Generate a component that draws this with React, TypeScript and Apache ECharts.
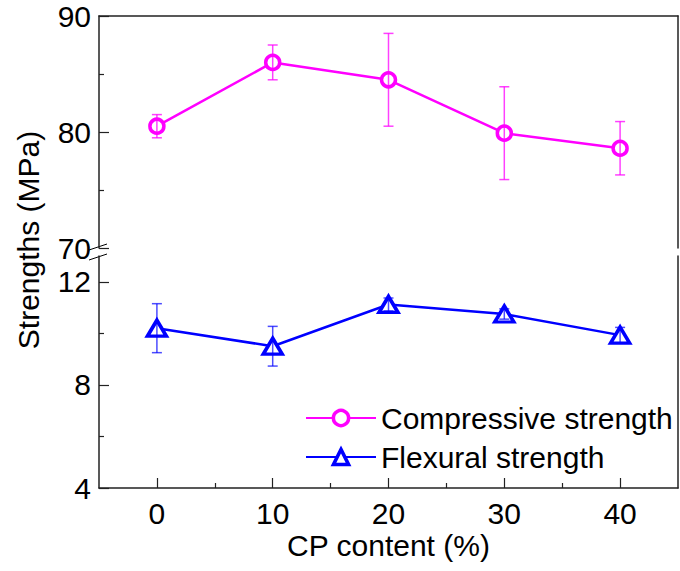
import React, { useEffect, useRef } from 'react';
import * as echarts from 'echarts';

const cpContent = [0, 10, 20, 30, 40];
const compressive = [80.5, 86.0, 84.5, 79.9, 78.6];
const compressiveErr = [1.0, 1.5, 4.0, 4.0, 2.3];
const flexural = [10.2, 9.5, 11.12, 10.75, 9.93];
const flexuralErr = [0.95, 0.77, 0.25, 0.2, 0.3];
const xMajorTicks = [0, 10, 20, 30, 40];
const xMinorTicks = [5, 15, 25, 35];
const upperMajorTicks = [70, 80, 90];
const upperMinorTicks = [75, 85];
const lowerMajorTicks = [4, 8, 12];
const lowerMinorTicks = [6, 10];

const FONT = '"Liberation Sans", Arial, sans-serif';
const AXIS_COLOR = '#222';
const MAGENTA = '#ff00ff';
const BLUE = '#0000ff';

function errorBarSeries(name: string, values: number[], errs: number[], color: string, xAxisIndex: number, yAxisIndex: number) {
  return {
    type: 'custom',
    name: name + ' error',
    xAxisIndex,
    yAxisIndex,
    z: 10,
    silent: true,
    data: cpContent.map((x, i) => [x, values[i] - errs[i], values[i] + errs[i]]),
    renderItem: (params: any, api: any) => {
      const x = api.value(0);
      const lo = api.coord([x, api.value(1)]);
      const hi = api.coord([x, api.value(2)]);
      const w = 5;
      const style = { stroke: color, lineWidth: 1.5 };
      return {
        type: 'group',
        children: [
          { type: 'line', shape: { x1: hi[0], y1: hi[1], x2: lo[0], y2: lo[1] }, style },
          { type: 'line', shape: { x1: hi[0] - w, y1: hi[1], x2: hi[0] + w, y2: hi[1] }, style },
          { type: 'line', shape: { x1: lo[0] - w, y1: lo[1], x2: lo[0] + w, y2: lo[1] }, style },
        ],
      };
    },
  };
}

export default function App() {
  const ref = useRef<HTMLDivElement>(null);
  useEffect(() => {
    if (!ref.current) return;
    const chart = echarts.init(ref.current, undefined, { renderer: 'svg' });
    const axisLine = { show: true, onZero: false, lineStyle: { color: AXIS_COLOR, width: 1.5 } };
    const labelStyle = { color: '#000', fontSize: 30, fontFamily: FONT };
    const baseX = { type: 'value', min: -5, max: 45, splitLine: { show: false } };
    const option: any = {
      animation: false,
      backgroundColor: '#fff',
      grid: [
        { left: 99, right: 2, top: 16, height: 232, outerBoundsMode: 'none', containLabel: false },
        { left: 99, right: 2, top: 256, height: 232, outerBoundsMode: 'none', containLabel: false },
      ],
      xAxis: [
        { ...baseX, gridIndex: 0, position: 'top', axisLine, axisTick: { show: false }, axisLabel: { show: false } },
        {
          ...baseX, gridIndex: 1, position: 'bottom', axisLine,
          axisTick: { show: true, inside: true, length: 10, customValues: xMajorTicks, lineStyle: { color: AXIS_COLOR, width: 1.2 } },
          axisLabel: { show: true, customValues: xMajorTicks, margin: 10, ...labelStyle },
          name: 'CP content (%)', nameLocation: 'middle', nameGap: 42,
          nameTextStyle: { ...labelStyle },
        },
        {
          ...baseX, gridIndex: 1, position: 'bottom', axisLine: { show: false, onZero: false },
          axisTick: { show: true, inside: true, length: 5, customValues: xMinorTicks, lineStyle: { color: AXIS_COLOR, width: 1.2 } },
          axisLabel: { show: false },
        },
      ],
      yAxis: [
        {
          type: 'value', gridIndex: 0, position: 'left', min: 70, max: 90, splitLine: { show: false }, axisLine,
          axisTick: { show: true, inside: true, length: 10, customValues: upperMajorTicks, lineStyle: { color: AXIS_COLOR, width: 1.2 } },
          axisLabel: { show: true, customValues: upperMajorTicks, margin: 8, ...labelStyle },
        },
        {
          type: 'value', gridIndex: 0, position: 'left', min: 70, max: 90, splitLine: { show: false }, axisLine: { show: false, onZero: false },
          axisTick: { show: true, inside: true, length: 5, customValues: upperMinorTicks, lineStyle: { color: AXIS_COLOR, width: 1.2 } },
          axisLabel: { show: false },
        },
        {
          type: 'value', gridIndex: 0, position: 'right', min: 70, max: 90, splitLine: { show: false }, axisLine,
          axisTick: { show: false }, axisLabel: { show: false },
        },
        {
          type: 'value', gridIndex: 1, position: 'left', min: 4, max: 13, splitLine: { show: false }, axisLine,
          axisTick: { show: true, inside: true, length: 10, customValues: lowerMajorTicks, lineStyle: { color: AXIS_COLOR, width: 1.2 } },
          axisLabel: { show: true, customValues: lowerMajorTicks, margin: 8, ...labelStyle },
        },
        {
          type: 'value', gridIndex: 1, position: 'left', min: 4, max: 13, splitLine: { show: false }, axisLine: { show: false, onZero: false },
          axisTick: { show: true, inside: true, length: 5, customValues: lowerMinorTicks, lineStyle: { color: AXIS_COLOR, width: 1.2 } },
          axisLabel: { show: false },
        },
        {
          type: 'value', gridIndex: 1, position: 'right', min: 4, max: 13, splitLine: { show: false }, axisLine,
          axisTick: { show: false }, axisLabel: { show: false },
        },
      ],
      legend: {
        left: 300, top: 398, orient: 'vertical', itemWidth: 70, itemHeight: 19, itemGap: 9,
        selectedMode: false,
        itemStyle: { borderWidth: 3.5 },
        textStyle: { color: '#000', fontSize: 30, fontFamily: FONT },
        data: ['Compressive strength', 'Flexural strength'],
      },
      series: [
        {
          type: 'line', name: 'Compressive strength', xAxisIndex: 0, yAxisIndex: 0,
          data: cpContent.map((x, i) => [x, compressive[i]]),
          symbol: 'circle', symbolSize: 14,
          lineStyle: { color: MAGENTA, width: 2.5 },
          itemStyle: { color: '#fff', borderColor: MAGENTA, borderWidth: 3.5 },
          z: 5,
        },
        {
          type: 'line', name: 'Flexural strength', xAxisIndex: 1, yAxisIndex: 3,
          data: cpContent.map((x, i) => [x, flexural[i]]),
          symbol: 'triangle', symbolSize: [19, 16],
          lineStyle: { color: BLUE, width: 2.5 },
          itemStyle: { color: '#fff', borderColor: BLUE, borderWidth: 3.5 },
          z: 5,
        },
        errorBarSeries('Compressive strength', compressive, compressiveErr, 'rgba(255,0,255,0.75)', 0, 0),
        errorBarSeries('Flexural strength', flexural, flexuralErr, 'rgba(0,0,255,0.7)', 1, 3),
      ],
      graphic: [
        {
          type: 'text', x: 28, y: 240, rotation: Math.PI / 2,
          style: { text: 'Strengths (MPa)', fontSize: 30, fontFamily: FONT, fill: '#000', align: 'center', verticalAlign: 'middle' },
        },
        { type: 'line', shape: { x1: 89, y1: 250, x2: 107, y2: 244 }, style: { stroke: '#000', lineWidth: 1 } },
        { type: 'line', shape: { x1: 89, y1: 260, x2: 107, y2: 254 }, style: { stroke: '#000', lineWidth: 1 } },
      ],
    };
    chart.setOption(option);
    return () => chart.dispose();
  }, []);
  return <div ref={ref} style={{ position: 'fixed', left: 0, top: 0, width: 680, height: 571 }} />;
}
